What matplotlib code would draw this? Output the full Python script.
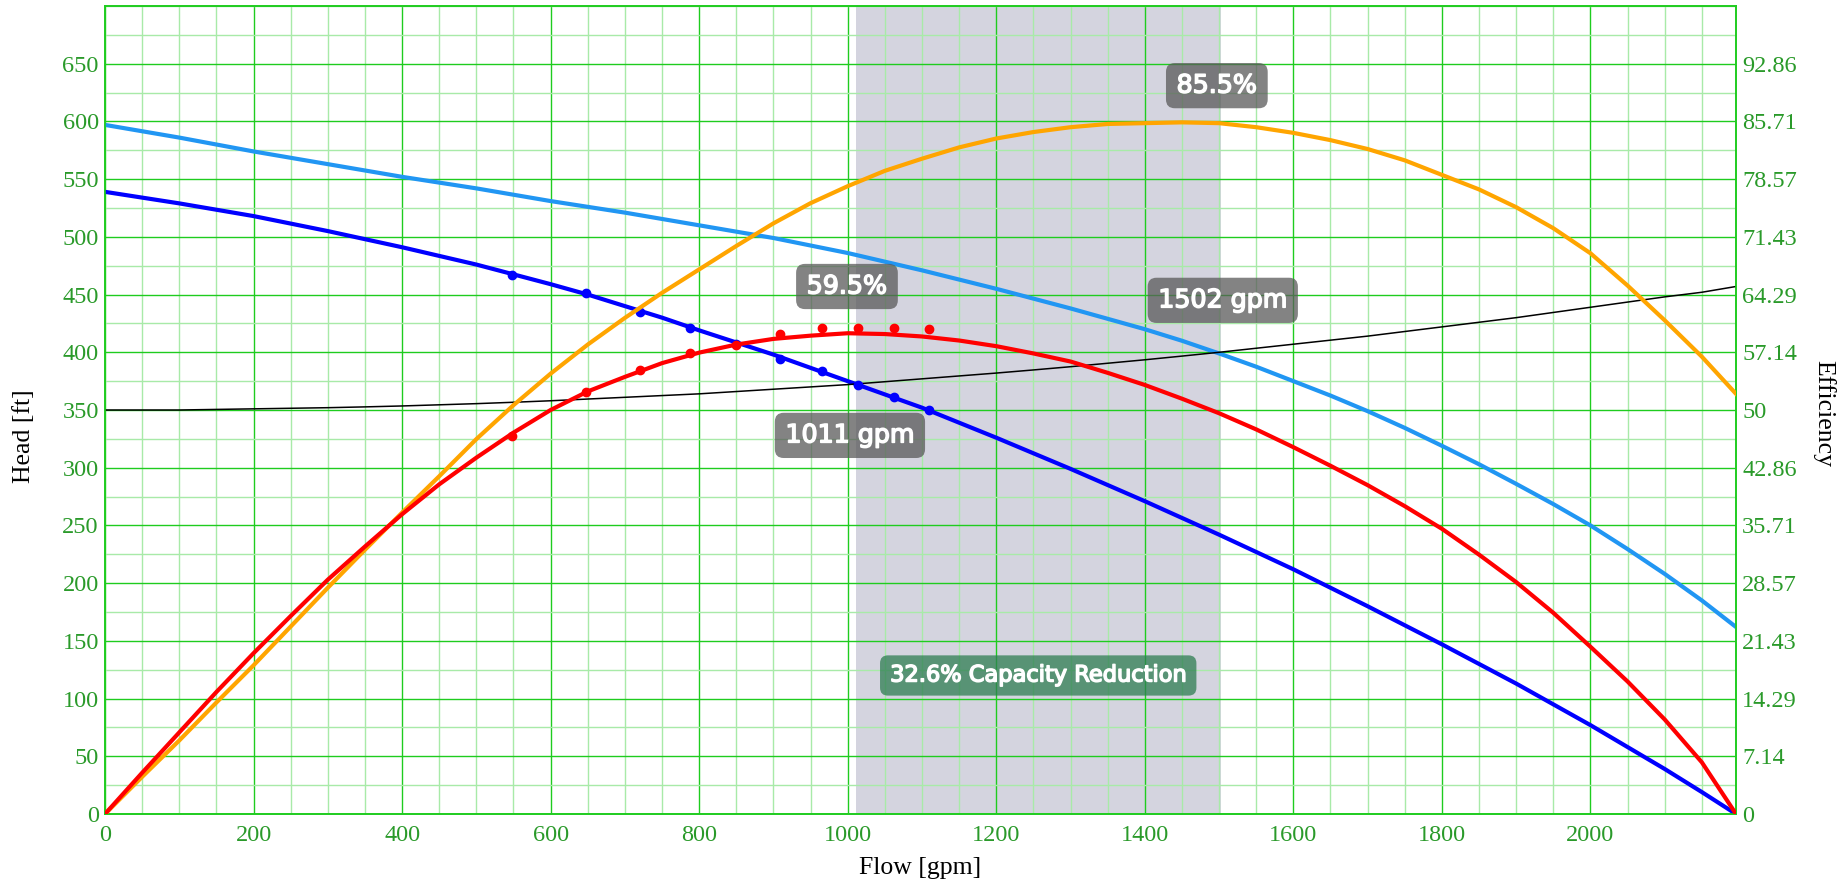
import matplotlib
matplotlib.use("Agg")
import matplotlib.pyplot as plt
import matplotlib.patheffects as pe
from matplotlib.ticker import MultipleLocator, FixedLocator, FuncFormatter

# Pump / system curves sampled along the flow axis [gpm]
flow = [0, 50, 100, 150, 200, 250, 300, 350, 400, 450, 500, 550, 600, 650,
        700, 750, 800, 850, 900, 950, 1000, 1050, 1100, 1150, 1200, 1250,
        1300, 1350, 1400, 1450, 1500, 1550, 1600, 1650, 1700, 1750, 1800,
        1850, 1900, 1950, 2000, 2050, 2100, 2150, 2196]
head_full = [597, 591.5, 586, 580, 574, 568.5, 563, 557.5, 552, 547, 542,
             536.5, 531, 526, 521, 515.5, 510, 504.5, 499, 492.5, 486, 478.5,
             471, 463, 455, 446.5, 438, 429, 420, 410, 399, 387.5, 375, 362.5,
             349, 334.5, 319, 303, 286, 268.5, 250, 229.5, 208, 185, 162]
head_worn = [539, 534, 529, 523.5, 518, 511.5, 505, 498, 491, 483.5, 476,
             467.5, 459, 450, 440, 430, 419, 408.5, 398, 386.5, 375, 363.5,
             352, 339, 326, 312.5, 299, 285, 271, 256.5, 242, 227, 212, 196,
             180, 163.5, 147, 130, 113, 95, 77, 58, 39, 19, 0]
head_system = [350, 350, 350, 350.5, 351, 351.5, 352, 352.7, 353.5, 354.5,
               355.5, 356.7, 358, 359.5, 361, 362.5, 364, 366, 368, 370, 372,
               374.5, 377, 379.5, 382, 384.7, 387.5, 390.5, 393.5, 396.7, 400,
               403.5, 407, 410.5, 414, 418, 422, 426, 430, 434.5, 439, 443.5,
               448, 452, 457]
eff_full = [0, 4.6, 9.1, 13.8, 18.4, 23.2, 28.0, 32.7, 37.3, 41.8, 46.4, 50.6,
            54.5, 58.1, 61.4, 64.5, 67.4, 70.3, 73.1, 75.6, 77.7, 79.6, 81.1,
            82.5, 83.6, 84.4, 85.0, 85.4, 85.5, 85.6, 85.5, 85.0, 84.3, 83.4,
            82.3, 80.9, 79.1, 77.3, 75.1, 72.5, 69.4, 65.4, 61.1, 56.6, 52.0]
eff_worn = [0, 5.1, 10.1, 15.1, 19.9, 24.5, 29.0, 33.1, 37.1, 40.8, 44.1, 47.2,
            50.0, 52.3, 54.1, 55.8, 57.1, 58.1, 58.8, 59.2, 59.5, 59.4, 59.1,
            58.6, 57.9, 57.0, 56.0, 54.6, 53.1, 51.4, 49.6, 47.6, 45.4, 43.1,
            40.7, 38.1, 35.3, 32.1, 28.7, 24.9, 20.7, 16.4, 11.7, 6.4, 0]

# Field test readings
test_flow = [548, 647, 721, 787, 849, 909, 965, 1014, 1062, 1109]
test_head = [467, 451, 435, 421, 407, 394, 384, 372, 361, 350]
test_eff = [46.8, 52.2, 55.0, 57.0, 58.1, 59.4, 60.1, 60.2, 60.1, 60.0]

# Operating points
op_flow_worn = 1011
op_flow_full = 1502
op_eff_worn = 59.5
op_eff_full = 85.5
capacity_reduction = 32.6

GRID_MAJOR = "#1fcc1f"
GRID_MINOR = "#a8eaa8"
TICK_GREEN = "#2a9a2a"
SERIF = "Liberation Serif"

W, H = 1849, 884
fig = plt.figure(figsize=(W / 100, H / 100), dpi=100)
ax = fig.add_axes([105 / W, 70 / H, (1736 - 105) / W, (814 - 6) / H])
ax.set_xlim(0, 2196)
ax.set_ylim(0, 700)

ax.axvspan(op_flow_worn, op_flow_full, color="#d4d4df", lw=0, zorder=0.2)

ax.xaxis.set_major_locator(MultipleLocator(200))
ax.xaxis.set_minor_locator(MultipleLocator(50))
ax.yaxis.set_major_locator(FixedLocator(list(range(0, 700, 50))))
ax.yaxis.set_minor_locator(MultipleLocator(25))
ax.set_axisbelow(True)
ax.grid(which="minor", color=GRID_MINOR, lw=1.0, zorder=0.4)
ax.grid(which="major", color=GRID_MAJOR, lw=1.0, zorder=0.5)

ax.tick_params(which="both", length=0, colors=TICK_GREEN, labelsize=17.5)
ax.tick_params(axis="x", pad=8)
ax.tick_params(axis="y", pad=4.5)
for lab in ax.get_xticklabels() + ax.get_yticklabels():
    lab.set_fontfamily(SERIF)

ax.plot(flow, head_full, color="#2196f3", lw=3, zorder=3)
ax.plot(flow, head_worn, color="#0000ff", lw=3, zorder=3)
ax.plot(flow, head_system, color="black", lw=1.1, zorder=3)
ax.plot(test_flow, test_head, "o", color="#0000ff", ms=6, zorder=4)

ax2 = ax.twinx()
ax2.set_ylim(0, 100)
ax2.yaxis.set_major_locator(FixedLocator([k * 100 / 14 for k in range(14)]))
ax2.yaxis.set_major_formatter(
    FuncFormatter(lambda v, _: f"{v:.2f}".rstrip("0").rstrip(".")))
ax2.tick_params(length=0, colors=TICK_GREEN, labelsize=17.5, pad=4.5)
for lab in ax2.get_yticklabels():
    lab.set_fontfamily(SERIF)

ax2.plot(flow, eff_full, color="#ffa500", lw=3, zorder=3)
ax2.plot(flow, eff_worn, color="#ff0000", lw=3, zorder=3)
ax2.plot(test_flow, test_eff, "o", color="#ff0000", ms=6, zorder=4)

for a in (ax, ax2):
    for sp in a.spines.values():
        sp.set_color(GRID_MAJOR)
        sp.set_linewidth(1.2)

# Value tags (placed in head units, drawn above all curves)
stroke = [pe.withStroke(linewidth=1.1, foreground="white")]
gray_box = dict(boxstyle="round,pad=0.42,rounding_size=0.35",
                fc="#5a5a5a", ec="none", alpha=0.75)
tags = [
    (op_flow_worn - 12, 457, f"{op_eff_worn}%"),
    (op_flow_worn - 8, 328, f"{op_flow_worn} gpm"),
    (op_flow_full - 5, 631, f"{op_eff_full}%"),
    (op_flow_full + 3, 445, f"{op_flow_full} gpm"),
]
for x, y, s in tags:
    ax2.text(x, y, s, transform=ax.transData, ha="center", va="center",
             color="white", fontsize=18.2, family="DejaVu Sans",
             bbox=gray_box, path_effects=stroke, zorder=6)

ax2.text((op_flow_worn + op_flow_full) / 2, 120,
         f"{capacity_reduction}% Capacity Reduction",
         transform=ax.transData, ha="center", va="center", color="white",
         fontsize=16.2, family="DejaVu Sans", path_effects=stroke, zorder=6,
         bbox=dict(boxstyle="round,pad=0.45,rounding_size=0.35",
                   fc="#2e7d52", ec="none", alpha=0.75))

fig.text(920 / W, 1 - 868 / H, "Flow [gpm]", ha="center", va="center",
         family=SERIF, fontsize=18.5)
fig.text(24 / W, 1 - 436 / H, "Head [ft]", ha="center", va="center",
         rotation=90, family=SERIF, fontsize=18.5)
fig.text(1824 / W, 1 - 413 / H, "Efficiency", ha="center", va="center",
         rotation=270, family=SERIF, fontsize=18.5)

fig.savefig("out.png", dpi=100)
